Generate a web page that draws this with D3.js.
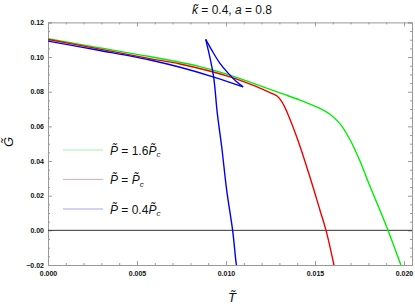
<!DOCTYPE html>
<html lang="en">
<head>
<meta charset="UTF-8">
<title>G vs T</title>
<script src="https://cdnjs.cloudflare.com/ajax/libs/d3/7.8.5/d3.min.js"></script>
<style>
  body { margin: 0; padding: 0; background: white; }
  svg { display: block; font-family: "Liberation Sans", Arial, sans-serif; }
  .tick text { font-size: 7px; font-weight: bold; fill: #111; }
  .axis path, .axis line { stroke: #999; }
</style>
</head>
<body>
<div id="chart"></div>
<script>
// data: T and G values per curve
const greenT = [0, 0.00292, 0.00573, 0.00854, 0.01022, 0.01208, 0.01331, 0.01416, 0.01472, 0.01528, 0.01584, 0.01640, 0.01697, 0.01753, 0.01809, 0.01865, 0.01910, 0.01983];
const greenG = [0.1106, 0.1053, 0.1003, 0.0945, 0.0896, 0.0828, 0.0783, 0.0751, 0.0728, 0.0704, 0.0670, 0.0616, 0.0523, 0.0399, 0.0254, 0.0116, 0.0, -0.0202];

const redT = [0, 0.00292, 0.00573, 0.00742, 0.01022, 0.01174, 0.01247, 0.01287, 0.01315, 0.01343, 0.01404, 0.01472, 0.01528, 0.01562, 0.01607];
const redG = [0.1101, 0.1046, 0.0991, 0.0960, 0.0886, 0.0828, 0.0795, 0.0775, 0.0740, 0.0682, 0.0520, 0.0306, 0.0116, 0.0, -0.0202];

// blue has three branches (swallowtail)
const blueT1 = [0, 0.00292, 0.00573, 0.00742, 0.00927, 0.01096];
const blueG1 = [0.1092, 0.1038, 0.0983, 0.0941, 0.0886, 0.0828];
const blueT2 = [0.01096, 0.01060, 0.01013, 0.00966, 0.00920, 0.00886];
const blueG2 = [0.0828, 0.0857, 0.0906, 0.0964, 0.1040, 0.1102];
const blueT3 = [0.00886, 0.00929, 0.00951, 0.00976, 0.01004, 0.01038, 0.01055, 0.01059];
const blueG3 = [0.1102, 0.0896, 0.0676, 0.0481, 0.0231, -0.0006, -0.0173, -0.0202];

const xMajor = [0, 0.005, 0.010, 0.015, 0.020];
const yMajor = [-0.02, 0, 0.02, 0.04, 0.06, 0.08, 0.10, 0.12];

const legendItems = [
  { color: '#00ee00', pale: '#a8f4a8', coef: '1.6' },
  { color: '#ee0000', pale: '#f6a8a8', coef: '' },
  { color: '#0000ee', pale: '#a8a8f6', coef: '0.4' }
];

const width = 415, height = 304;
const mLeft = 48, mRight = 412, mTop = 22.4, mBottom = 265;

const svg = d3.select('#chart').append('svg')
  .attr('width', width).attr('height', height);

const x = d3.scaleLinear().domain([0, 0.02045]).range([mLeft, mRight]);
const y = d3.scaleLinear().domain([-0.02, 0.12]).range([mBottom, mTop]);

const xMinor = d3.range(0, 0.0205, 0.001).filter(v => !xMajor.some(m => Math.abs(m - v) < 1e-9));
const yMinor = d3.range(-0.02, 0.1201, 0.005).filter(v => !yMajor.some(m => Math.abs(m - v) < 1e-9));

// axes: major with labels, minor without
function drawAxis(gen, scale, pos, major, minor, labelFmt, pad) {
  const g = svg.append('g').attr('class', 'axis').attr('transform', pos);
  g.call(gen(scale).tickValues(major).tickSize(-4).tickPadding(pad).tickFormat(labelFmt));
  const gm = svg.append('g').attr('class', 'axis').attr('transform', pos);
  gm.call(gen(scale).tickValues(minor).tickSize(-2).tickFormat(''));
  gm.select('.domain').remove();
}
drawAxis(d3.axisBottom, x, `translate(0,${mBottom})`, xMajor, xMinor, d3.format('.3f'), 6);
drawAxis(d3.axisTop, x, `translate(0,${mTop})`, xMajor, xMinor, () => '', 0);
drawAxis(d3.axisLeft, y, `translate(${mLeft},0)`, yMajor, yMinor, d3.format('.2f'), 4);
drawAxis(d3.axisRight, y, `translate(${mRight},0)`, yMajor, yMinor, () => '', 0);

// zero line
svg.append('line')
  .attr('x1', mLeft).attr('x2', mRight)
  .attr('y1', y(0)).attr('y2', y(0))
  .attr('stroke', '#333').attr('stroke-width', 1);

svg.append('clipPath').attr('id', 'plot')
  .append('rect').attr('x', mLeft).attr('y', mTop)
  .attr('width', mRight - mLeft).attr('height', mBottom - mTop);

const line = d3.line().x(d => x(d[0])).y(d => y(d[1])).curve(d3.curveCatmullRom.alpha(0.5));
const curves = [
  { t: greenT, g: greenG, c: legendItems[0].color },
  { t: redT, g: redG, c: legendItems[1].color },
  { t: blueT1, g: blueG1, c: legendItems[2].color },
  { t: blueT2, g: blueG2, c: legendItems[2].color },
  { t: blueT3, g: blueG3, c: legendItems[2].color }
];
svg.append('g').attr('clip-path', 'url(#plot)')
  .selectAll('path').data(curves).enter().append('path')
  .attr('d', d => line(d3.zip(d.t, d.g)))
  .attr('fill', 'none')
  .attr('stroke', d => d.c)
  .attr('stroke-width', 1.4);

// legend
const legend = svg.append('g');
legendItems.forEach((it, i) => {
  const ly = 150 + i * 29.5;
  legend.append('line')
    .attr('x1', 63).attr('x2', 103).attr('y1', ly).attr('y2', ly)
    .attr('stroke', it.pale).attr('stroke-width', 1.2);
  const t = legend.append('text').attr('x', 110).attr('y', ly + 4.5)
    .attr('font-size', 12).attr('fill', '#111');
  t.append('tspan').attr('font-style', 'italic').text('P\u0303');
  t.append('tspan').text(' = ' + it.coef);
  t.append('tspan').attr('font-style', 'italic').text('P\u0303');
  t.append('tspan').attr('font-style', 'italic').attr('font-size', 8).attr('dy', 2.5).text('c');
});

// title
const title = svg.append('text').attr('x', 232).attr('y', 14)
  .attr('text-anchor', 'middle').attr('font-size', 12).attr('fill', '#111');
title.append('tspan').attr('font-style', 'italic').text('k\u0303');
title.append('tspan').text(' = 0.4, ');
title.append('tspan').attr('font-style', 'italic').text('a');
title.append('tspan').text(' = 0.8');

// axis labels
svg.append('text').attr('x', 232).attr('y', 302)
  .attr('text-anchor', 'middle').attr('font-size', 13).attr('font-style', 'italic')
  .attr('fill', '#111').text('T\u0303');
svg.append('text').attr('transform', 'translate(13,142) rotate(-90)')
  .attr('text-anchor', 'middle').attr('font-size', 13).attr('font-style', 'italic')
  .attr('fill', '#111').text('G\u0303');
</script>
</body>
</html>
